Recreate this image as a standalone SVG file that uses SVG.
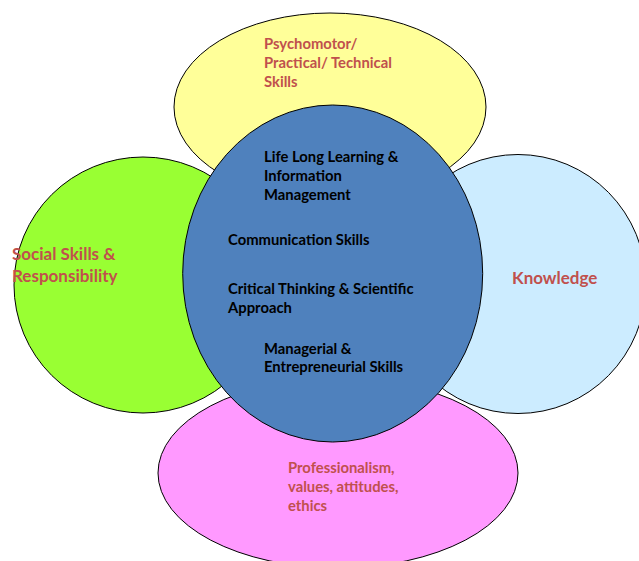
<svg xmlns="http://www.w3.org/2000/svg" width="639" height="561" viewBox="0 0 639 561">
<style>
.shape{stroke:#000;stroke-width:1}
.lbl{font-family:Lato,"Liberation Sans",sans-serif;font-weight:bold;font-size:14.8px}
.red{fill:#C0504D}
.blk{fill:#000}
.big{font-size:17px}
</style>
<rect width="639" height="561" fill="#fff"/>
<g id="connectors"/>
<g id="psychomotor">
<ellipse class="shape" cx="330" cy="107" rx="156" ry="94" fill="#FFFF99"/>
<text class="lbl red" x="264" y="49">Psychomotor/</text>
<text class="lbl red" x="264" y="68">Practical/ Technical</text>
<text class="lbl red" x="264" y="87">Skills</text>
</g>
<g id="social">
<ellipse class="shape" cx="143" cy="285" rx="129" ry="128" fill="#99FF33"/>
<text class="lbl red big" x="12" y="260">Social Skills &amp;</text>
<text class="lbl red big" x="12" y="282">Responsibility</text>
</g>
<g id="knowledge">
<ellipse class="shape" cx="518" cy="284" rx="128" ry="129.5" fill="#CCECFF"/>
<text class="lbl red big" x="512" y="284">Knowledge</text>
</g>
<g id="professionalism">
<ellipse class="shape" cx="338" cy="473" rx="180" ry="95" fill="#FF99FF"/>
<text class="lbl red" x="288" y="473">Professionalism,</text>
<text class="lbl red" x="288" y="492">values, attitudes,</text>
<text class="lbl red" x="288" y="511">ethics</text>
</g>
<g id="core">
<ellipse class="shape" cx="332.7" cy="273.5" rx="150" ry="168.5" fill="#4F81BD"/>
<text class="lbl blk" x="264" y="162">Life Long Learning &amp;</text>
<text class="lbl blk" x="264" y="181">Information</text>
<text class="lbl blk" x="264" y="199.5">Management</text>
<text class="lbl blk" x="228" y="245">Communication Skills</text>
<text class="lbl blk" x="228" y="293.5">Critical Thinking &amp; Scientific</text>
<text class="lbl blk" x="228" y="312.5">Approach</text>
<text class="lbl blk" x="264" y="353.5">Managerial &amp;</text>
<text class="lbl blk" x="264" y="372">Entrepreneurial Skills</text>
</g>
</svg>
